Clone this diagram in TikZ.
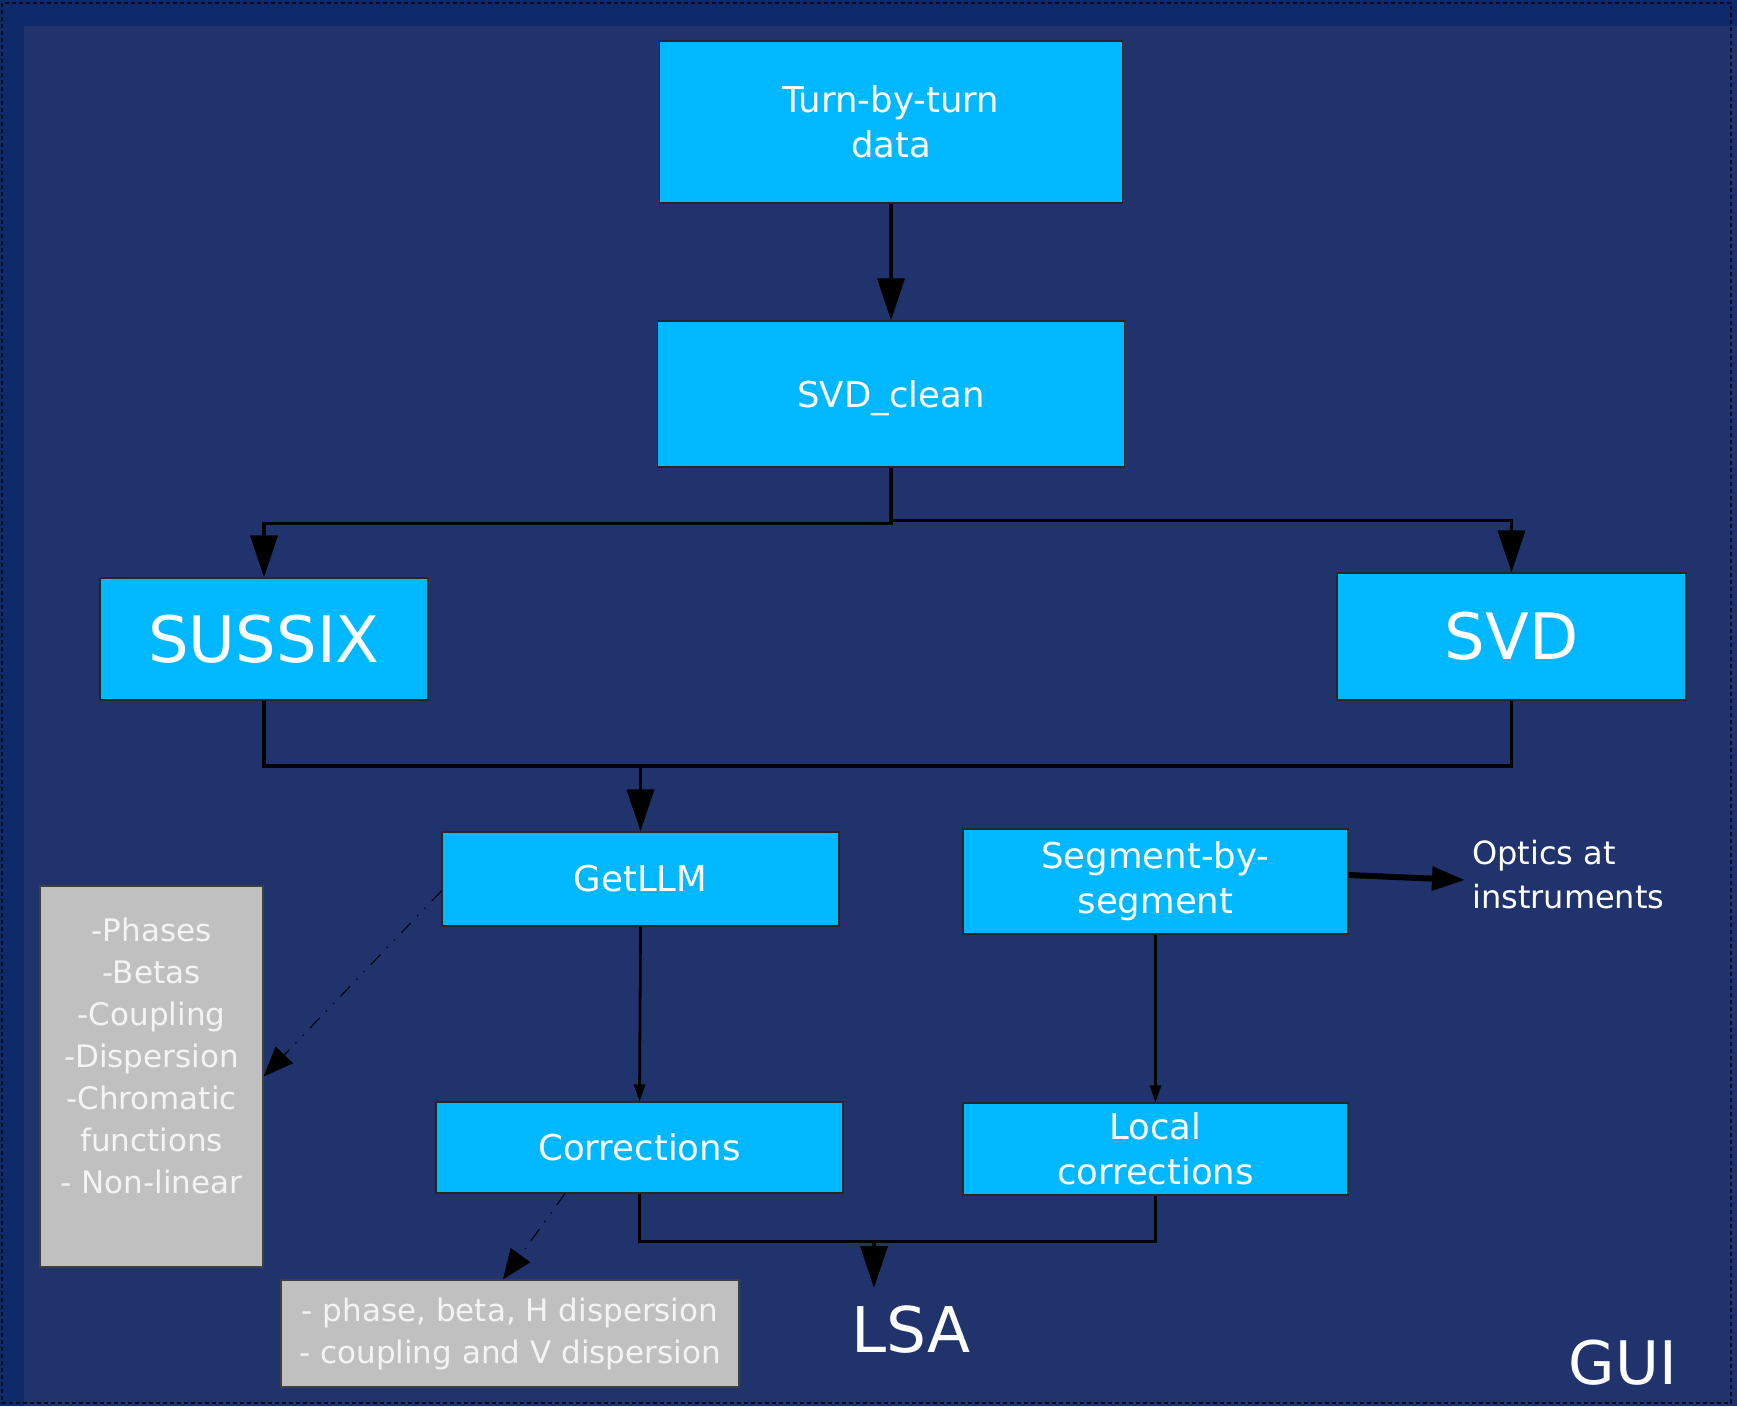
\documentclass[tikz,border=0pt]{standalone}
\usepackage{fontspec}
\setmainfont{DejaVu Sans}
\usetikzlibrary{arrows.meta}
\definecolor{pageblue}{HTML}{0E2A6B}
\definecolor{slideblue}{HTML}{20336D}
\definecolor{boxcyan}{HTML}{00B8FF}
\definecolor{notegrey}{HTML}{C0C0C0}
\definecolor{notetext}{HTML}{F4F4F4}
\tikzset{
 stage/.style={draw=black!85,line width=1.2pt,fill=boxcyan,text=white,align=center,inner sep=0,font=\fontsize{35.5}{45}\selectfont},
 bigstage/.style={stage,font=\fontsize{64}{72}\selectfont},
 note/.style={draw=black!75,line width=1.2pt,fill=notegrey,text=notetext,align=center,inner sep=0,font=\fontsize{31}{42}\selectfont},
 plain/.style={text=white,inner sep=0},
 flow/.style={line width=3.5pt},
 bigarrow/.style={flow,-{Triangle[length=42pt,width=27pt]}},
 thinarrow/.style={line width=2.8pt,-{Triangle[length=17pt,width=11pt]}},
 fatarrow/.style={line width=6pt,-{Triangle[length=33pt,width=23pt]}},
 hint/.style={line width=1pt,dash pattern=on 14pt off 9pt on 1.5pt off 9pt on 1.5pt off 9pt,-{Triangle[length=30pt,width=24pt]}}
}
\begin{document}
\begin{tikzpicture}[x=1pt,y=-1pt]
\path[use as bounding box] (0,0) rectangle (1737,1406);
% slide background
\fill[pageblue] (0,0) rectangle (1737,1406);
\fill[slideblue] (24,26) rectangle (1737,1406);
\draw[black!70!pageblue,line width=1.2pt,dash pattern=on 4pt off 3pt] (2,3) rectangle (1731,1403);
% stages
\node[stage,minimum width=463,minimum height=162] (tbt) at (891,122) {Turn-by-turn\\data};
\node[stage,minimum width=467,minimum height=146,text depth=0pt] (svdc) at (891,394) {SVD\_clean};
\node[bigstage,minimum width=328,minimum height=122] (sussix) at (264,639) {SUSSIX};
\node[bigstage,minimum width=349,minimum height=127] (svd) at (1511.5,636.5) {SVD};
\node[stage,minimum width=397,minimum height=94] (getllm) at (640.5,879) {GetLLM};
\node[stage,minimum width=385,minimum height=105] (seg) at (1155.5,881.5) {Segment-by-\\segment};
\node[stage,minimum width=407,minimum height=91] (corr) at (639.5,1147.5) {Corrections};
\node[stage,minimum width=385,minimum height=92] (local) at (1155.5,1149) {Local\\corrections};
% notes
\node[note,minimum width=223,minimum height=381] (leftnote) at (151.5,1076.5)
 {-Phases\\-Betas\\-Coupling\\-Dispersion\\-Chromatic\\functions\\- Non-linear\\~};
\node[note,minimum width=458,minimum height=107] (botnote) at (510,1333.5)
 {- phase, beta, H dispersion\\- coupling and V dispersion};
\node[plain,anchor=west,align=left,font=\fontsize{32}{44}\selectfont] (optics) at (1472,875) {Optics at\\instruments};
\node[plain,font=\fontsize{63}{70}\selectfont] (lsa) at (911,1330) {LSA};
\node[plain,font=\fontsize{60}{70}\selectfont] (gui) at (1623,1363) {GUI};
% connectors
\coordinate (join) at (640.5,765.5);
\coordinate (lsatop) at (874,1241);
\draw[bigarrow] (tbt.south) -- (svdc.north);
\draw[bigarrow] (svdc.south) -- ++(0,56) -| (sussix.north);
\draw[bigarrow] (svdc.south) -- ++(0,53) -| (svd.north);
\draw[flow] (sussix.south) -- ++(0,65.5) -| (svd.south);
\draw[bigarrow] (join) -- (getllm.north);
\draw[thinarrow] (getllm.south) -- (corr.north);
\draw[thinarrow] (seg.south) -- (local.north);
\draw[fatarrow] ([yshift=6.5pt]seg.east) -- ([xshift=-7pt,yshift=-5pt]optics.west);
\draw[flow] (corr.south) -- ++(0,48) -| (local.south);
\draw[bigarrow] (lsatop) -- ++(0,47);
\draw[hint] ([yshift=-12pt]getllm.west) -- (leftnote.east);
\draw[hint] ([xshift=-74.5pt]corr.south) -- ([xshift=-7pt]botnote.north);
\end{tikzpicture}
\end{document}
